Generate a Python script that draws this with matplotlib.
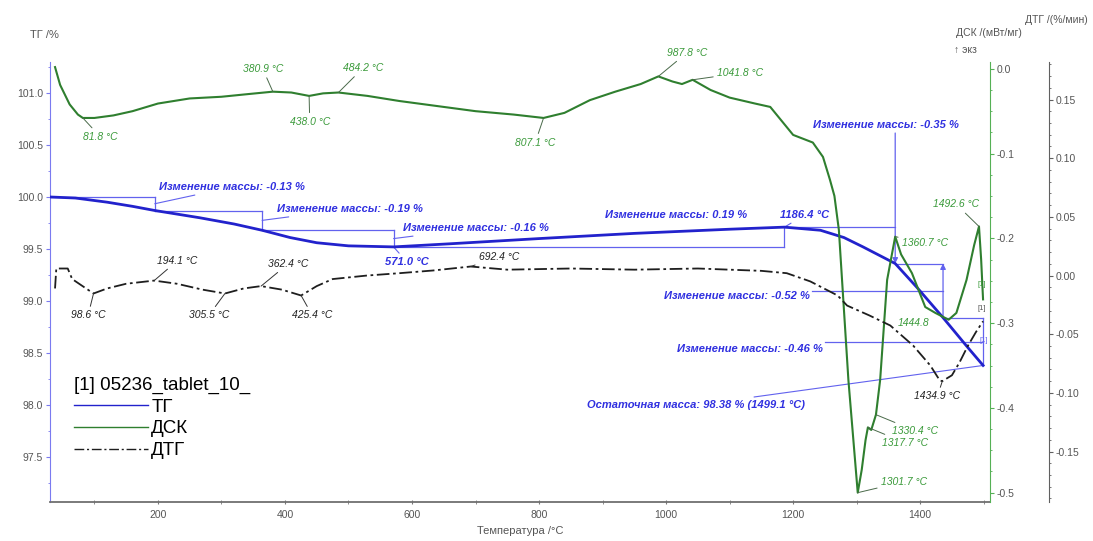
import numpy as np
import matplotlib.pyplot as plt
from matplotlib.ticker import MultipleLocator, FormatStrFormatter

plt.rcParams['font.family'] = ['Liberation Sans', 'DejaVu Sans']

# ТГ, масса образца (%)
tg_t = [30, 70, 120, 160, 195, 266, 320, 364, 408, 450, 500, 571, 660, 800, 950,
        1100, 1186.4, 1243, 1280, 1310, 1360.7, 1395, 1436, 1474, 1499.1]
tg_val = [100.0, 99.99, 99.95, 99.91, 99.87, 99.80, 99.74, 99.68, 99.61, 99.56, 99.53,
          99.52, 99.55, 99.60, 99.65, 99.69, 99.71, 99.68, 99.61, 99.52, 99.36, 99.13,
          98.84, 98.56, 98.38]

# ступени изменения массы
step_t = [30, 195, 364, 571, 1186.4, 1360.7, 1436, 1499.1]
step_m = [100.0, 99.87, 99.68, 99.52, 99.71, 99.36, 98.84, 98.38]

# ДСК (мВт/мг)
dsc_t = [38, 46, 61, 74, 81.8, 100, 130, 160, 200, 250, 300, 340, 380.9, 410, 438, 460,
         484.2, 530, 580, 640, 700, 760, 807.1, 840, 880, 920, 960, 987.8, 1010, 1025,
         1041.8, 1070, 1100, 1140, 1164, 1200, 1231, 1247, 1258, 1265, 1272, 1287,
         1301.7, 1308, 1314, 1317.7, 1323, 1330.4, 1337, 1348, 1360.7, 1370, 1387,
         1408, 1424, 1444.8, 1457, 1473, 1485, 1492.6, 1496, 1499]
dsc_val = [0.002, -0.019, -0.042, -0.054, -0.058, -0.058, -0.055, -0.050, -0.041, -0.035,
           -0.033, -0.030, -0.027, -0.028, -0.032, -0.029, -0.028, -0.032, -0.038, -0.044,
           -0.050, -0.054, -0.058, -0.052, -0.037, -0.027, -0.018, -0.009, -0.015, -0.018,
           -0.013, -0.025, -0.034, -0.041, -0.045, -0.078, -0.087, -0.104, -0.131, -0.150,
           -0.190, -0.367, -0.500, -0.473, -0.438, -0.423, -0.426, -0.408, -0.367, -0.249,
           -0.198, -0.219, -0.241, -0.281, -0.288, -0.296, -0.288, -0.249, -0.208, -0.186,
           -0.225, -0.272]

# ДТГ (%/мин)
dtg_t = [38, 40, 47, 58, 65, 80, 98.6, 120, 150, 194.1, 230, 270, 305.5, 335, 362.4, 395,
         425.4, 450, 475, 529, 580, 633, 692.4, 750, 850, 950, 1050, 1150, 1190, 1227,
         1270, 1285, 1320, 1353, 1389, 1416, 1431, 1434.9, 1450, 1462, 1475, 1488, 1499]
dtg_val = [-0.011, 0.006, 0.006, 0.006, -0.003, -0.0085, -0.0153, -0.011, -0.007, -0.0043,
           -0.007, -0.012, -0.0153, -0.011, -0.009, -0.012, -0.017, -0.009, -0.003, 0.0,
           0.002, 0.0043, 0.0077, 0.005, 0.006, 0.005, 0.006, 0.004, 0.002, -0.005, -0.017,
           -0.0256, -0.034, -0.0426, -0.0597, -0.0767, -0.0895, -0.090, -0.085, -0.074,
           -0.060, -0.048, -0.039]

# отмеченные пики: температура и положение подписи
dsc_peaks = [81.8, 380.9, 438.0, 484.2, 807.1, 987.8, 1041.8, 1360.7, 1492.6,
             1301.7, 1317.7, 1330.4]
dsc_label_xy = [(109, -0.080), (365, 0.0), (439, -0.0625), (523, 0.001), (794, -0.087),
                (1033, 0.019), (1117, -0.005), (1408, -0.205), (1457, -0.160),
                (1375, -0.487), (1376, -0.441), (1392, -0.427)]
dtg_peaks = [98.6, 194.1, 305.5, 362.4, 425.4, 692.4, 1434.9]
dtg_label_xy = [(90, -0.034), (231, 0.0128), (280, -0.034), (405, 0.010), (443, -0.034),
                (737, 0.016), (1427, -0.103)]

c_tg = '#2222cc'
c_tg_txt = '#3030e0'
c_tg_thin = '#6262ee'
c_dsc = '#2f7f2f'
c_dsc_txt = '#3a9a3a'
c_dtg = '#1e1e1e'
c_tick = '#555555'

fig = plt.figure(figsize=(10.93, 5.41), dpi=100)
ax = fig.add_axes([0.0457, 0.0721, 0.8601, 0.8133])
ax2 = ax.twinx()
ax3 = ax.twinx()

ax.set_xlim(30, 1510)
ax.set_ylim(97.067, 101.298)
ax2.set_ylim(-0.511, 0.008)
ax3.set_ylim(-0.193, 0.182)

for a in (ax, ax2, ax3):
    a.patch.set_visible(False)
    for s in ('top', 'left', 'right', 'bottom'):
        a.spines[s].set_visible(False)

ax.spines['left'].set_visible(True)
ax.spines['left'].set_color('#7a7af0')
ax.spines['bottom'].set_visible(True)
ax.spines['bottom'].set_color('#707070')
ax.spines['bottom'].set_linewidth(1.3)
ax2.spines['right'].set_visible(True)
ax2.spines['right'].set_color('#55b055')
ax3.spines['right'].set_visible(True)
ax3.spines['right'].set_position(('outward', 42.5))
ax3.spines['right'].set_color('#606060')

ax.xaxis.set_major_locator(MultipleLocator(200))
ax.xaxis.set_minor_locator(MultipleLocator(100))
ax.yaxis.set_major_locator(MultipleLocator(0.5))
ax.yaxis.set_minor_locator(MultipleLocator(0.25))
ax.yaxis.set_major_formatter(FormatStrFormatter('%.1f'))
ax2.yaxis.set_major_locator(MultipleLocator(0.1))
ax2.yaxis.set_minor_locator(MultipleLocator(0.025))
ax2.yaxis.set_major_formatter(FormatStrFormatter('%.1f'))
ax3.yaxis.set_major_locator(MultipleLocator(0.05))
ax3.yaxis.set_minor_locator(MultipleLocator(0.01))
ax3.yaxis.set_major_formatter(FormatStrFormatter('%.2f'))

ax.tick_params(axis='x', which='both', direction='inout', length=3, color='#777777',
               labelsize=7.5, labelcolor=c_tick, pad=4)
ax.tick_params(axis='y', which='major', length=3, color='#7a7af0', labelsize=7.5,
               labelcolor=c_tick, pad=2)
ax.tick_params(axis='y', which='minor', length=1.5, color='#7a7af0')
ax2.tick_params(axis='y', which='major', length=3, color='#55b055', labelsize=7.5,
                labelcolor=c_tick, pad=2)
ax2.tick_params(axis='y', which='minor', length=1.5, color='#55b055')
ax3.tick_params(axis='y', which='major', length=3, color='#606060', labelsize=7.5,
                labelcolor=c_tick, pad=2)
ax3.tick_params(axis='y', which='minor', length=1.5, color='#606060')

# кривые
l_tg, = ax.plot(tg_t, tg_val, color=c_tg, lw=2.0, zorder=4, label='ТГ')
l_dsc, = ax2.plot(dsc_t, dsc_val, color=c_dsc, lw=1.5, label='ДСК')
l_dtg, = ax3.plot(dtg_t, dtg_val, color=c_dtg, lw=1.3, ls=(0, (7, 2, 1.5, 2)), label='ДТГ')

# ступени изменения массы
thin = dict(color=c_tg_thin, lw=0.9)
for i in range(len(step_t) - 1):
    ax.plot([step_t[i], step_t[i + 1]], [step_m[i], step_m[i]], zorder=2, **thin)
    if i not in (4, 5):
        ax.plot([step_t[i + 1], step_t[i + 1]], [step_m[i], step_m[i + 1]], zorder=2, **thin)

ax.annotate('', xy=(step_t[5], step_m[5]), xytext=(step_t[5], 100.615),
            arrowprops=dict(arrowstyle='-|>', color=c_tg_thin, lw=0.9, mutation_scale=8,
                            shrinkA=0, shrinkB=0))
ax.annotate('', xy=(step_t[6], step_m[5]), xytext=(step_t[6], step_m[6]),
            arrowprops=dict(arrowstyle='-|>', color=c_tg_thin, lw=0.9, mutation_scale=8,
                            shrinkA=0, shrinkB=0))

blue_txt = dict(color=c_tg_txt, fontsize=8, style='italic', fontweight='bold')
lead = dict(arrowstyle='-', color=c_tg_thin, lw=0.8, shrinkA=1, shrinkB=0)
steps_txt = ['Изменение массы: %.2f %%' % (step_m[i + 1] - step_m[i])
             for i in range(len(step_t) - 1)]

# подписи к ступеням
step_label_xy = [(202, 100.096), (387, 99.885), (586, 99.70), (904, 99.83)]
for i, (tx, ty) in enumerate(step_label_xy):
    mid = (step_m[i] + step_m[i + 1]) / 2
    ax.annotate(steps_txt[i], xy=(step_t[i + 1], mid), xytext=(tx, ty),
                ha='left', va='center', arrowprops=lead if i < 3 else None, **blue_txt)
ax.annotate('%.1f °C' % step_t[4], xy=(step_t[4], step_m[4]), xytext=(1180, 99.83),
            ha='left', va='center', arrowprops=lead, **blue_txt)
ax.annotate('%.1f °C' % step_t[3], xy=(step_t[3], step_m[3]), xytext=(592, 99.375),
            ha='center', va='center', arrowprops=lead, **blue_txt)
ax.text(1231, 100.69, steps_txt[4], ha='left', va='center', **blue_txt)

mid6 = (step_m[5] + step_m[6]) / 2
ax.plot([1230, step_t[6]], [mid6, mid6], **thin)
ax.text(1226, mid6 - 0.05, steps_txt[5], ha='right', va='center', **blue_txt)
mid7 = (step_m[6] + step_m[7]) / 2
ax.plot([1250, step_t[7]], [mid7, mid7], **thin)
ax.text(1247, mid7 - 0.07, steps_txt[6], ha='right', va='center', **blue_txt)

ax.annotate('Остаточная масса: %.2f %% (%.1f °C)' % (step_m[-1], step_t[-1]),
            xy=(step_t[-1], step_m[-1]), xytext=(1219, 98.0), ha='right', va='center',
            arrowprops=lead, **blue_txt)

# пики ДСК
green_txt = dict(color=c_dsc_txt, fontsize=7.5, style='italic')
for t, (tx, ty) in zip(dsc_peaks, dsc_label_xy):
    yv = np.interp(t, dsc_t, dsc_val)
    ax2.annotate('%.1f °C' % t, xy=(t, yv), xytext=(tx, ty), ha='center', va='center',
                 arrowprops=dict(arrowstyle='-', color='#4a6a4a', lw=0.7,
                                 shrinkA=1, shrinkB=0), annotation_clip=False, **green_txt)
ax2.annotate('%.1f' % 1444.8, xy=(1444.8, np.interp(1444.8, dsc_t, dsc_val)),
             xytext=(1389, -0.300), ha='center', va='center', **green_txt)

# пики ДТГ
black_txt = dict(color='#222222', fontsize=7.5, style='italic')
for t, (tx, ty) in zip(dtg_peaks, dtg_label_xy):
    yv = np.interp(t, dtg_t, dtg_val)
    ax3.annotate('%.1f °C' % t, xy=(t, yv), xytext=(tx, ty), ha='center', va='center',
                 arrowprops=dict(arrowstyle='-', color='#333333', lw=0.7,
                                 shrinkA=1, shrinkB=0), **black_txt)

# метки [1] у конца кривых
ax2.text(1497, -0.255, '[1]', color=c_dsc_txt, fontsize=5.5, ha='center', va='center')
ax3.text(1497, -0.028, '[1]', color='#555555', fontsize=5.5, ha='center', va='center')
ax.text(1500, 98.62, '[1]', color=c_tg_thin, fontsize=5.5, ha='center', va='center')

leg = ax3.legend([l_tg, l_dsc, l_dtg], ['ТГ', 'ДСК', 'ДТГ'], title='[1] 05236_tablet_10_',
                 loc='upper left', bbox_to_anchor=(0.026, 0.285), frameon=False,
                 fontsize=13.5, title_fontsize=13.5, handlelength=3.9, handletextpad=0.2,
                 labelspacing=0.25, alignment='left', borderaxespad=0, borderpad=0)
for h in leg.legend_handles:
    h.set_linewidth(1.0)

ax.set_xlabel('Температура /°C', fontsize=8, color=c_tick, labelpad=1)
ax.xaxis.set_label_coords(0.5, -0.055)
fig.text(0.041, 0.935, 'ТГ /%', fontsize=8, color=c_tick, ha='center', va='center')
fig.text(0.905, 0.939, 'ДСК /(мВт/мг)', fontsize=7.5, color=c_tick, ha='center', va='center')
fig.text(0.883, 0.908, '↑ экз', fontsize=7.5, color=c_tick, ha='center', va='center')
fig.text(0.995, 0.963, 'ДТГ /(%/мин)', fontsize=7.5, color=c_tick, ha='right', va='center')

fig.savefig('out.png', dpi=100)
